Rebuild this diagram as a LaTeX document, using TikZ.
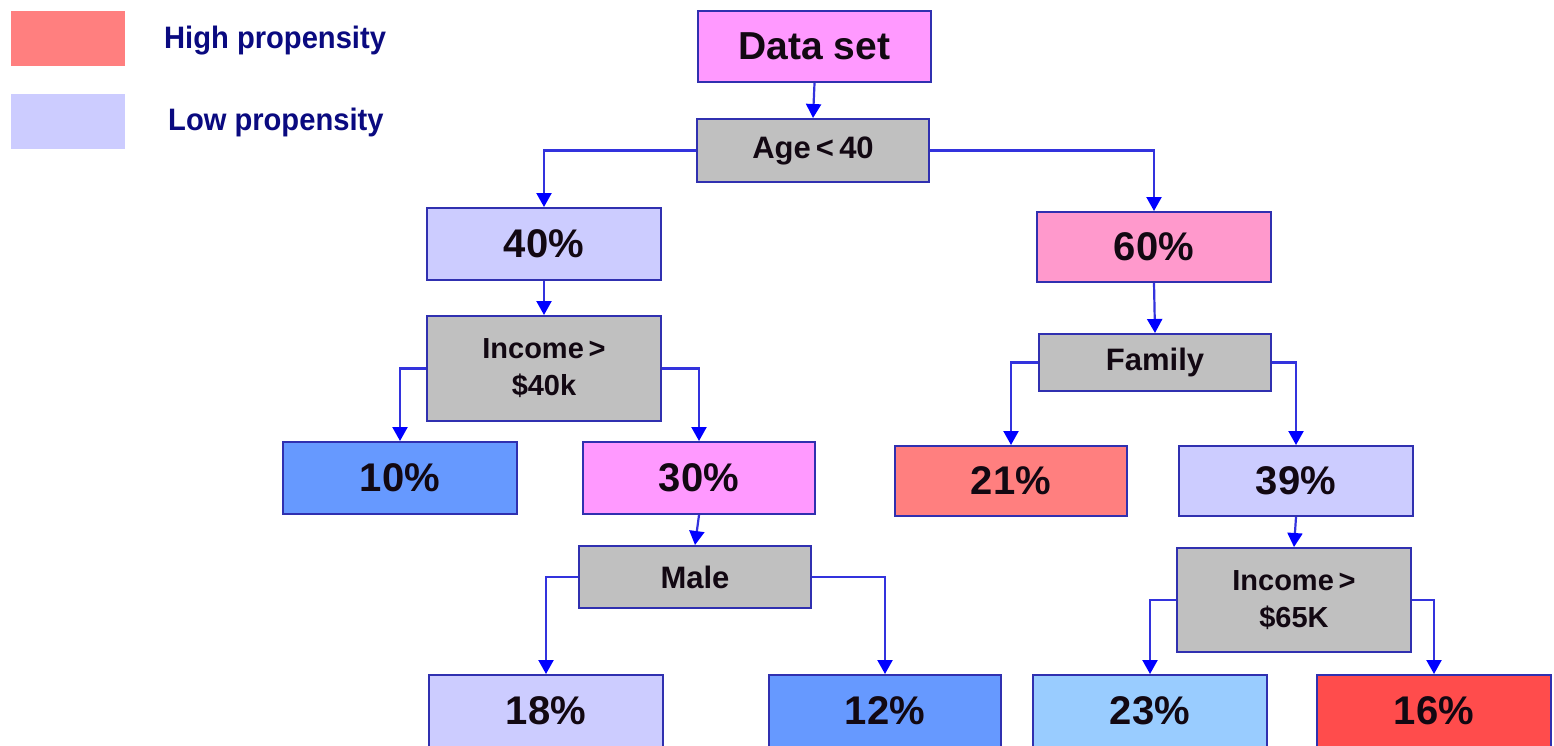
\documentclass[tikz,border=0pt]{standalone}
\usepackage{fontspec}
\setmainfont{Liberation Sans}
\newfontfamily\keyfont[FakeStretch=0.94]{Liberation Sans}
\usetikzlibrary{arrows.meta}

\definecolor{highprop}{HTML}{FF7F7F}
\definecolor{lowprop}{HTML}{CCCCFF}
\definecolor{rootpink}{HTML}{FF99FF}
\definecolor{rosepink}{HTML}{FF99CC}
\definecolor{testgray}{HTML}{C0C0C0}
\definecolor{midblue}{HTML}{6699FF}
\definecolor{skyblue}{HTML}{99CCFF}
\definecolor{strongred}{HTML}{FF4C4C}
\definecolor{boxline}{HTML}{3030B0}
\definecolor{linkblue}{HTML}{3333DD}
\definecolor{tipblue}{HTML}{0000FF}
\definecolor{keytext}{HTML}{0A0A80}
\definecolor{inktext}{HTML}{120812}

\begin{document}
\begin{tikzpicture}[x=1pt, y=-1pt,
  box/.style={draw=boxline, line width=2pt, inner sep=0pt, text=inktext, align=center},
  pct/.style={box, font=\fontsize{40}{44}\selectfont\bfseries},
  test/.style={box, fill=testgray, font=\fontsize{31}{37}\selectfont\bfseries},
  keybox/.style={inner sep=0pt, minimum width=114pt, minimum height=55pt},
  keylabel/.style={anchor=west, inner sep=0pt, text=keytext, font=\keyfont\fontsize{31}{36}\selectfont\bfseries},
  conn/.style={draw=linkblue, line width=2.2pt, -{Triangle[length=14pt, width=15pt, color=tipblue]}}
]
\useasboundingbox (0,0) rectangle (1554,745);
\clip (0,0) rectangle (1554,745);
\fill[white] (0,0) rectangle (1554,745);

% key
\node[keybox, fill=highprop] (keyhigh) at (68,38) {};
\node[keybox, fill=lowprop] (keylow) at (68,121.5) {};
\node[keylabel] (keyhightext) at (164,41) {High propensity};
\node[keylabel] (keylowtext) at (168,122) {Low propensity};

% tree nodes
\node[box, fill=rootpink, minimum width=233pt, minimum height=71pt,
      font=\fontsize{39}{44}\selectfont\bfseries] (root) at (814.5,46.5) {Data set};
\node[test, minimum width=232pt, minimum height=63pt] (age) at (813,150.5) {Age\,<\,40};

\node[pct, fill=lowprop, minimum width=234pt, minimum height=72pt] (p40) at (544,244) {40\%};
\node[test, minimum width=234pt, minimum height=105pt, font=\fontsize{29}{37}\selectfont\bfseries] (inc40) at (544,368.5) {Income\,>\\\$40k};
\node[pct, fill=midblue, minimum width=234pt, minimum height=72pt] (p10) at (400,478) {10\%};
\node[pct, fill=rootpink, minimum width=232pt, minimum height=72pt] (p30) at (699,478) {30\%};
\node[test, minimum width=232pt, minimum height=62pt] (male) at (695,577) {Male};
\node[pct, fill=lowprop, minimum width=234pt, minimum height=72pt] (p18) at (546,711) {18\%};
\node[pct, fill=midblue, minimum width=232pt, minimum height=72pt] (p12) at (885,711) {12\%};

\node[pct, fill=rosepink, minimum width=234pt, minimum height=70pt] (p60) at (1154,247) {60\%};
\node[test, minimum width=232pt, minimum height=57pt] (family) at (1155,362.5) {Family};
\node[pct, fill=highprop, minimum width=232pt, minimum height=70pt] (p21) at (1011,481) {21\%};
\node[pct, fill=lowprop, minimum width=234pt, minimum height=70pt] (p39) at (1296,481) {39\%};
\node[test, minimum width=234pt, minimum height=104pt, font=\fontsize{29}{37}\selectfont\bfseries] (inc65) at (1294,600) {Income\,>\\\$65K};
\node[pct, fill=skyblue, minimum width=234pt, minimum height=72pt] (p23) at (1150,711) {23\%};
\node[pct, fill=strongred, minimum width=234pt, minimum height=72pt] (p16) at (1434,711) {16\%};

% connectors
\draw[conn] (root.south) -- (age.north);
\draw[conn] (age.west) -| (p40.north);
\draw[conn] (age.east) -| (p60.north);
\draw[conn] (p40.south) -- (inc40.north);
\draw[conn] (inc40.west) -| (p10.north);
\draw[conn] (inc40.east) -| (p30.north);
\draw[conn] (p30.south) -- (male.north);
\draw[conn] (male.west) -| (p18.north);
\draw[conn] (male.east) -| (p12.north);
\draw[conn] (p60.south) -- (family.north);
\draw[conn] (family.west) -| (p21.north);
\draw[conn] (family.east) -| (p39.north);
\draw[conn] (p39.south) -- (inc65.north);
\draw[conn] (inc65.west) -| (p23.north);
\draw[conn] (inc65.east) -| (p16.north);
\end{tikzpicture}
\end{document}
